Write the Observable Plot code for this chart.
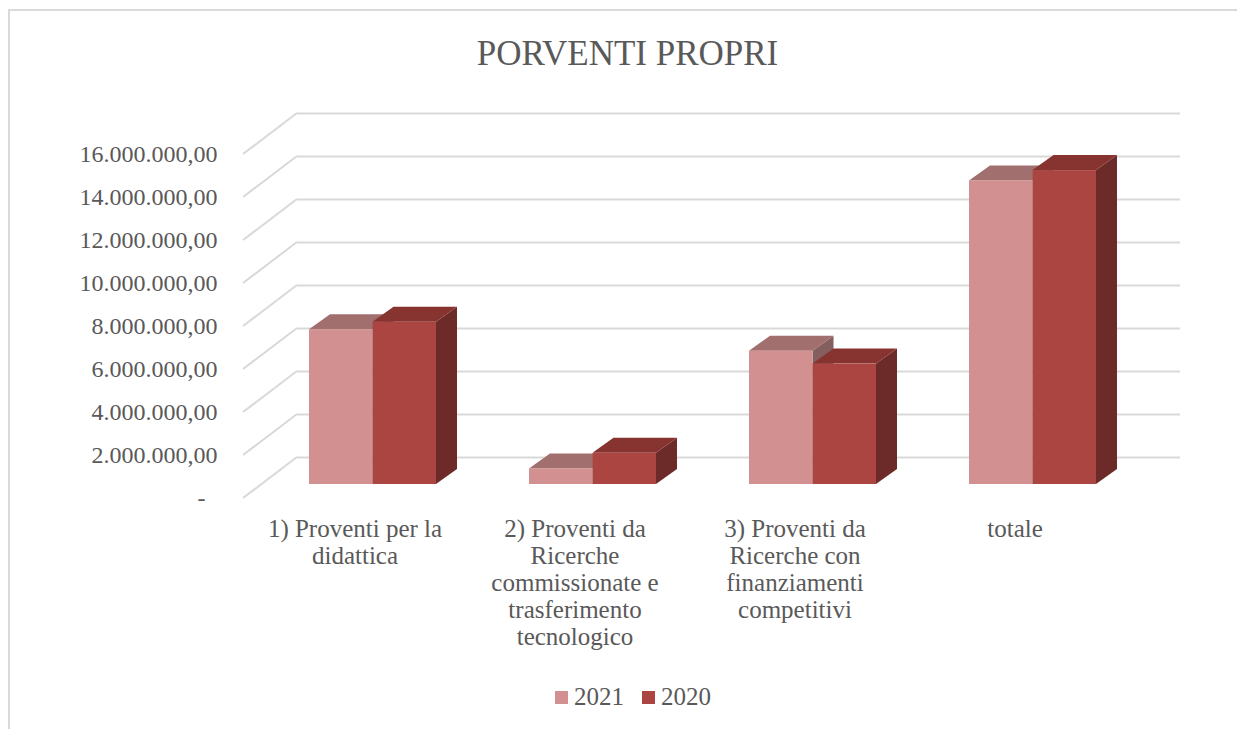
<!DOCTYPE html>
<html>
<head>
<meta charset="utf-8">
<script src="https://cdn.jsdelivr.net/npm/d3@7"></script>
<script src="https://cdn.jsdelivr.net/npm/@observablehq/plot@0.6"></script>
<style>
  html, body { margin: 0; padding: 0; background: #fff; }
  body { width: 1237px; height: 729px; position: relative; overflow: hidden; font-family: "Liberation Serif", serif; color: #595959; }
  #frame { position: absolute; left: 8px; top: 9px; width: 2000px; height: 2000px; border-left: 2px solid #d9d9d9; border-top: 2px solid #d9d9d9; }
  #title { position: absolute; left: 9px; top: 36px; width: 1237px; text-align: center; font-size: 35px; line-height: 35px; }
  #chart { position: absolute; left: 0; top: 90px; }
  #legend { position: absolute; left: 0; top: 684px; width: 1266px; height: 26px; display: flex; justify-content: center; align-items: center; font-size: 25px; line-height: 26px; }
  .item { display: flex; align-items: center; margin: 0 9px; }
  .sw { width: 13px; height: 13px; margin-right: 6px; }
</style>
</head>
<body>
<div id="frame"></div>
<div id="title"></div>
<div id="chart"></div>
<div id="legend"></div>
<script>
// ---- data ----
const title = "PORVENTI PROPRI";
const categories = [
  "1) Proventi per la\ndidattica",
  "2) Proventi da\nRicerche\ncommissionate e\ntrasferimento\ntecnologico",
  "3) Proventi da\nRicerche con\nfinanziamenti\ncompetitivi",
  "totale"
];
const years = ["2021", "2020"];
const values2021 = [7200000, 720000, 6200000, 14120000];
const values2020 = [7550000, 1450000, 5600000, 14600000];
const yTicks = [0, 2000000, 4000000, 6000000, 8000000, 10000000, 12000000, 14000000, 16000000];

// ---- styles / layout ----
const frontColors = ["#D39090", "#AB4542"];
const topColors = {"2021": "#A06F6E", "2020": "#87332F"};
const sideColors = {"2021": "#845F5E", "2020": "#6C2B29"};
const GRID = "#d9d9d9";
const DX = 18, DY = -14;   // bar front plane offset from floor front
const BX = 21, BY = -15;   // bar depth
const WX = 54, WY = -41;   // back wall offset
const W = 1237, H = 580, ML = 243, MR = 111, MT = 64, MB = H - 408;
const PAD_IN = 0.424, PAD_OUT = 0.21;
const half = d3.scaleBand().domain(categories).range([ML, W - MR])
  .paddingInner(PAD_IN).paddingOuter(PAD_OUT).bandwidth() / 2;

const rows2021 = categories.map((c, i) => ({category: c, year: "2021", value: values2021[i]}));
const rows2020 = categories.map((c, i) => ({category: c, year: "2020", value: values2020[i]}));

const itFormat = d3.formatLocale({decimal: ",", thousands: ".", grouping: [3], currency: ["€", ""]}).format(",.2f");
const tickFmt = d => d === 0 ? "-\u00a0\u00a0" : itFormat(d);

function faces(rows, left) {
  return (index, scales, values) => {
    const g = d3.create("svg:g");
    const bw = scales.x.bandwidth() / 2;
    for (const i of index) {
      const yr = rows[i].year;
      const xl = values.x[i] + DX + (left ? 0 : bw), xr = xl + bw;
      const yt = Math.min(values.y1[i], values.y2[i]) + DY;
      const yb = Math.max(values.y1[i], values.y2[i]) + DY;
      g.append("path")
        .attr("d", `M${xr},${yt}L${xr + BX},${yt + BY}L${xr + BX},${yb + BY}L${xr},${yb}Z`)
        .attr("fill", sideColors[yr]);
      g.append("path")
        .attr("d", `M${xl},${yt}L${xr},${yt}L${xr + BX},${yt + BY}L${xl + BX},${yt + BY}Z`)
        .attr("fill", topColors[yr]);
    }
    return g.node();
  };
}

function diagRender(index, scales, values, dims) {
  const g = d3.create("svg:g");
  for (const i of index) {
    g.append("line")
      .attr("x1", dims.marginLeft).attr("y1", values.y[i])
      .attr("x2", dims.marginLeft + WX).attr("y2", values.y[i] + WY)
      .attr("stroke", GRID).attr("stroke-width", 2);
  }
  return g.node();
}

const chart = Plot.plot({
  width: W,
  height: H,
  marginLeft: ML,
  marginRight: MR,
  marginTop: MT,
  marginBottom: MB,
  style: {fontFamily: "Liberation Serif", color: "#595959", background: "transparent", overflow: "visible"},
  x: {domain: categories, paddingInner: PAD_IN, paddingOuter: PAD_OUT, axis: null, label: null},
  y: {domain: [0, 16000000], nice: false, axis: null, label: null},
  color: {domain: years, range: frontColors},
  marks: [
    Plot.ruleY(yTicks, {dx: WX, dy: WY, stroke: GRID, strokeWidth: 2}),
    Plot.ruleY(yTicks, {render: diagRender}),
    Plot.axisY(yTicks, {anchor: "left", tickSize: 0, tickPadding: 26, tickFormat: tickFmt, fontSize: 24, label: null}),
    Plot.barY(rows2021, {x: "category", y: "value", render: faces(rows2021, true)}),
    Plot.barY(rows2021, {x: "category", y: "value", fill: "year", insetRight: half, dx: DX, dy: DY}),
    Plot.barY(rows2020, {x: "category", y: "value", render: faces(rows2020, false)}),
    Plot.barY(rows2020, {x: "category", y: "value", fill: "year", insetLeft: half, dx: DX, dy: DY}),
    Plot.text(categories, {x: d => d, text: d => d, frameAnchor: "bottom", lineAnchor: "top", dy: 19, fontSize: 25, lineHeight: 1.08})
  ]
});
document.getElementById("chart").appendChild(chart);
document.getElementById("title").textContent = title;

const legend = document.getElementById("legend");
years.forEach((y, i) => {
  const it = document.createElement("div");
  it.className = "item";
  const sw = document.createElement("div");
  sw.className = "sw";
  sw.style.background = frontColors[i];
  const tx = document.createElement("span");
  tx.textContent = y;
  it.appendChild(sw); it.appendChild(tx);
  legend.appendChild(it);
});
</script>
</body>
</html>
